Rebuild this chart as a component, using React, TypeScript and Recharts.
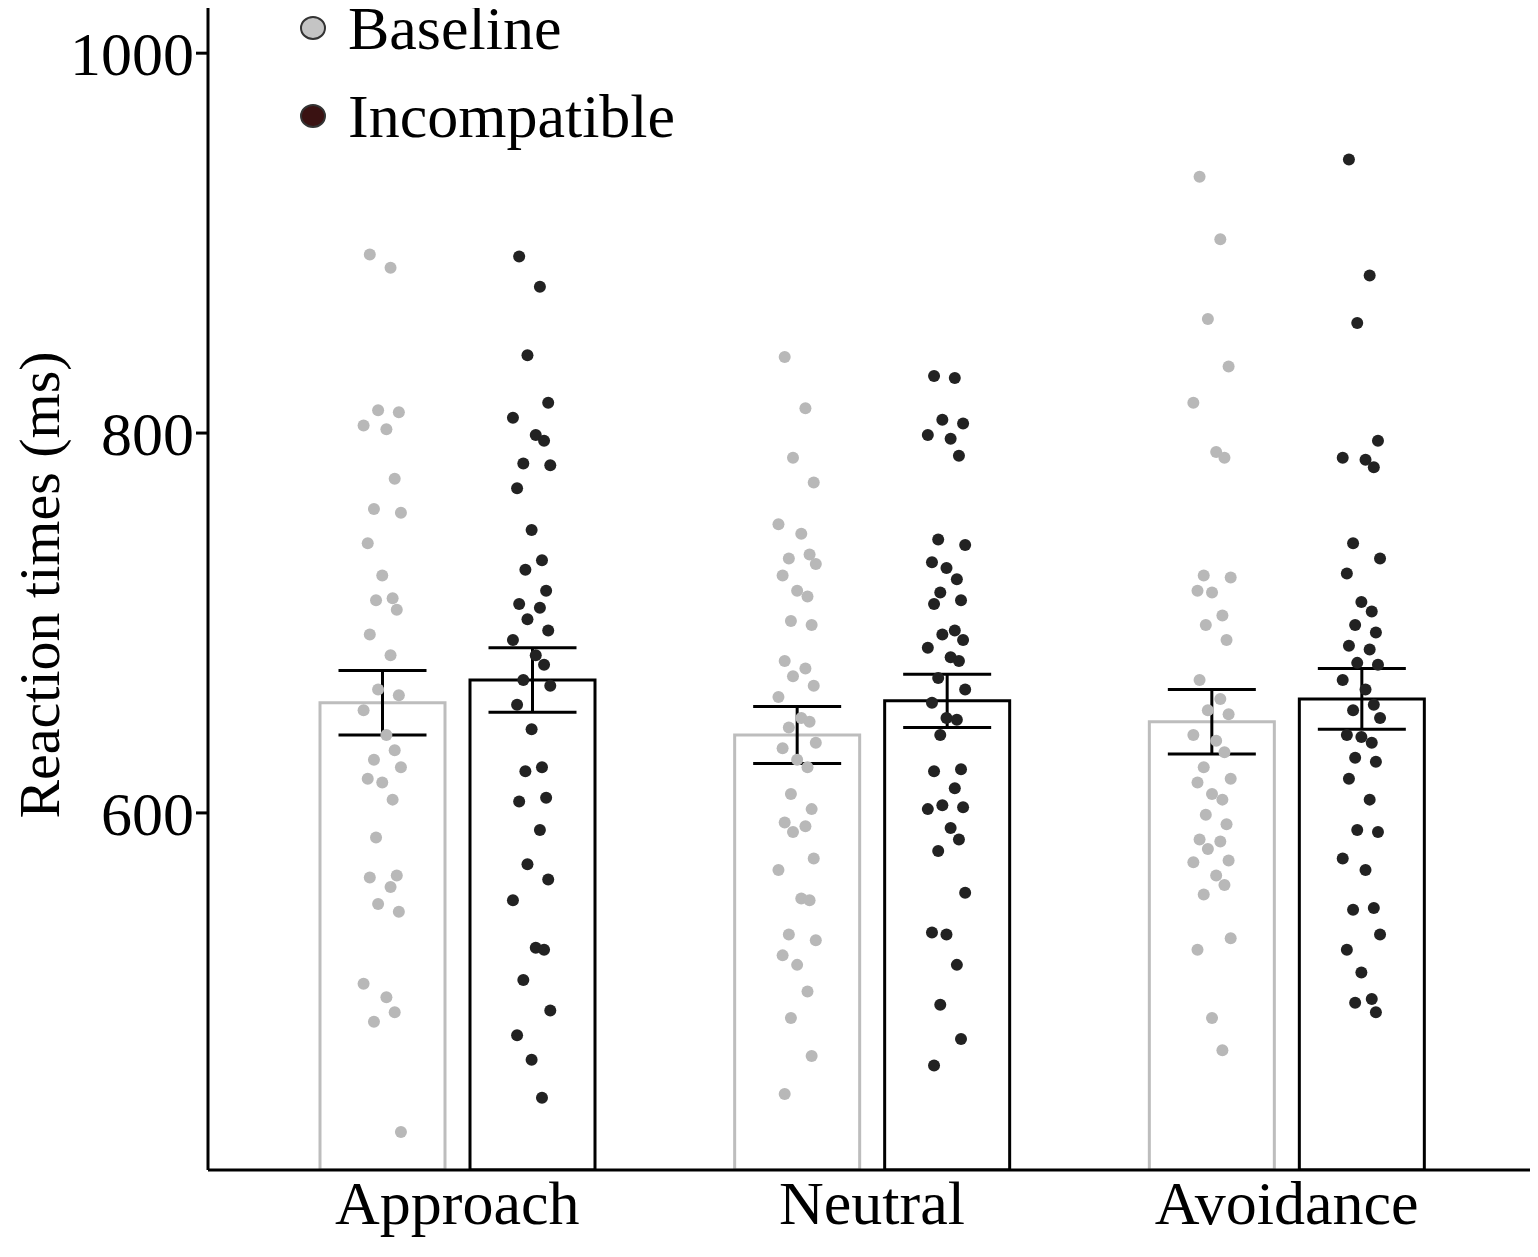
import { ComposedChart, Bar, Scatter, XAxis, YAxis, ErrorBar } from 'recharts'

const categories = ['Approach', 'Neutral', 'Avoidance']
const baselineMeans = [658, 641, 648]
const baselineErr = [17, 15, 17]
const incompatMeans = [670, 659, 660]
const incompatErr = [17, 14, 16]
const yTicks = [600, 800, 1000]

const approachBase = [894, 887, 812, 811, 804, 802, 776, 760, 758, 742, 725, 713, 712, 707, 694, 683, 665, 662, 654, 641, 633, 628, 624, 618, 616, 607, 587, 567, 566, 561, 552, 548, 510, 503, 495, 490, 432]
const approachInc = [893, 877, 841, 816, 808, 799, 796, 784, 783, 771, 749, 733, 728, 717, 710, 708, 702, 696, 691, 683, 678, 670, 667, 657, 644, 624, 622, 608, 606, 591, 573, 565, 554, 529, 528, 512, 496, 483, 470, 450]
const neutralBase = [840, 813, 787, 774, 752, 747, 736, 734, 731, 725, 717, 714, 701, 699, 680, 676, 672, 667, 661, 650, 648, 645, 637, 634, 628, 624, 610, 602, 595, 593, 590, 576, 570, 555, 554, 536, 533, 525, 520, 506, 492, 472, 452]
const neutralInc = [830, 829, 807, 805, 799, 797, 788, 744, 741, 732, 729, 723, 716, 712, 710, 696, 694, 691, 687, 682, 680, 671, 665, 658, 650, 649, 641, 623, 622, 613, 604, 603, 602, 592, 586, 580, 558, 537, 536, 520, 499, 481, 467]
const avoidBase = [935, 902, 860, 835, 816, 790, 787, 725, 724, 717, 716, 704, 699, 691, 670, 660, 654, 652, 641, 638, 632, 624, 618, 616, 610, 607, 599, 594, 586, 585, 581, 575, 574, 567, 562, 557, 534, 528, 492, 475]
const avoidInc = [944, 883, 858, 796, 787, 786, 782, 742, 734, 726, 711, 706, 699, 695, 688, 686, 679, 678, 670, 665, 657, 654, 650, 641, 640, 637, 629, 627, 618, 607, 591, 590, 576, 570, 550, 549, 536, 528, 516, 502, 500, 495]

const jitter = [-0.03, 0.02, -0.01, 0.04, -0.045, 0.01, 0.03, -0.02, 0.045, -0.035, 0.0, 0.025, -0.015, 0.035]

const barData = categories.map((name, i) => ({
  name,
  baseline: baselineMeans[i],
  baselineErr: baselineErr[i],
  incompatible: incompatMeans[i],
  incompatibleErr: incompatErr[i],
}))

const toPoints = (vals: number[], center: number) =>
  vals.map((y, i) => ({ x: center + jitter[i % jitter.length], y }))

const basePoints = [
  ...toPoints(approachBase, -0.18),
  ...toPoints(neutralBase, 0.82),
  ...toPoints(avoidBase, 1.82),
]
const incPoints = [
  ...toPoints(approachInc, 0.18),
  ...toPoints(neutralInc, 1.18),
  ...toPoints(avoidInc, 2.18),
]

const font = 'Liberation Serif, Times New Roman, serif'

export default function App() {
  return (
    <div style={{ position: 'relative', margin: -8, width: 1546, height: 1257, background: '#fff', fontFamily: font }}>
      <ComposedChart
        width={1546}
        height={1257}
        data={barData}
        margin={{ top: 0, right: 0, bottom: 0, left: 0 }}
        barCategoryGap={70}
        barGap={25}
      >
        <XAxis
          xAxisId="cat"
          dataKey="name"
          padding={{ left: 42, right: 52 }}
          height={87}
          tickLine={false}
          axisLine={{ stroke: '#000', strokeWidth: 3 }}
          tick={{ fill: '#000', fontSize: 62, fontFamily: font }}
          tickMargin={4}
        />
        <XAxis xAxisId="num" type="number" dataKey="x" domain={[-0.6, 2.625]} hide allowDataOverflow />
        <YAxis
          width={208}
          domain={[412, 1028]}
          ticks={yTicks}
          allowDataOverflow
          axisLine={{ stroke: '#000', strokeWidth: 3 }}
          tickLine={{ stroke: '#000', strokeWidth: 3 }}
          tickSize={12}
          tick={{ fill: '#000', fontSize: 62, fontFamily: font }}
          label={{ value: 'Reaction times (ms)', angle: -90, position: 'insideLeft', offset: 38, style: { fontSize: 58, fontFamily: font, fill: '#000', textAnchor: 'middle' } }}
        />
        <Bar xAxisId="cat" dataKey="baseline" fill="none" stroke="#bdbdbd" strokeWidth={3} isAnimationActive={false}>
          <ErrorBar dataKey="baselineErr" width={44} stroke="#000" strokeWidth={3} />
        </Bar>
        <Bar xAxisId="cat" dataKey="incompatible" fill="none" stroke="#000" strokeWidth={3} isAnimationActive={false}>
          <ErrorBar dataKey="incompatibleErr" width={44} stroke="#000" strokeWidth={3} />
        </Bar>
        <Scatter xAxisId="num" data={basePoints} dataKey="y" fill="#b8b8b8" shape={(p: any) => <circle cx={p.cx} cy={p.cy} r={6} fill="#b8b8b8" />} isAnimationActive={false} />
        <Scatter xAxisId="num" data={incPoints} dataKey="y" fill="#222" shape={(p: any) => <circle cx={p.cx} cy={p.cy} r={6} fill="#222" />} isAnimationActive={false} />
      </ComposedChart>
      <div style={{ position: 'absolute', left: 300, top: 0, fontSize: 62, lineHeight: '88px' }}>
        {[
          { label: 'Baseline', color: '#c4c4c4' },
          { label: 'Incompatible', color: '#3a1212' },
        ].map((l) => (
          <div key={l.label} style={{ display: 'flex', alignItems: 'center', height: 88, marginTop: l.label === 'Baseline' ? -16 : 0 }}>
            <span style={{ display: 'inline-block', width: 22, height: 20, borderRadius: '50%', background: l.color, border: '2px solid #333', marginRight: 22 }} />
            {l.label}
          </div>
        ))}
      </div>
    </div>
  )
}
